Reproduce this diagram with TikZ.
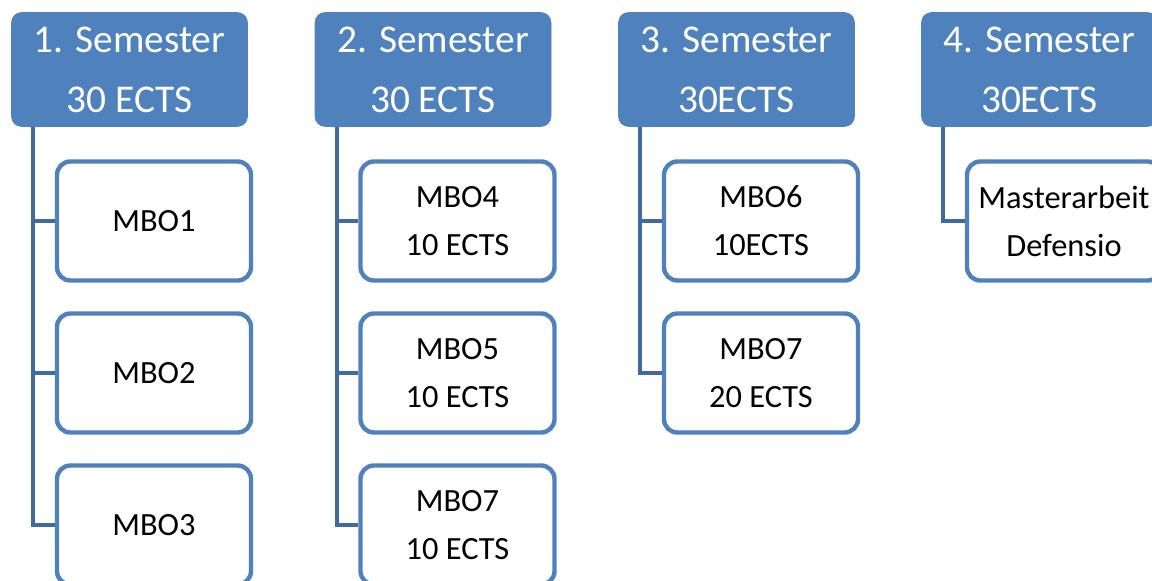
\documentclass[tikz,border=0pt]{standalone}
\usepackage{fontspec}
\setmainfont{Carlito}
\definecolor{accent}{RGB}{79,129,189}
\definecolor{linecol}{RGB}{62,106,156}

\begin{document}
\begin{tikzpicture}[x=0.75pt,y=-0.75pt]
                \tikzstyle{semester}=[rectangle,rounded corners=7.5pt,fill=accent,draw=accent,text=white,minimum width=177pt,minimum height=85.5pt,inner sep=0pt,align=center,font=\fontsize{29.5}{45}\selectfont]
                \tikzstyle{module}=[rectangle,rounded corners=10pt,draw=accent,line width=3.3pt,fill=white,minimum width=145.5pt,minimum height=89.25pt,inner sep=0pt,align=center,font=\fontsize{24.3}{36}\selectfont]
                \tikzstyle{branch}=[draw=linecol,line width=3.2pt]

                \path[use as bounding box,clip] (0,0) rectangle (1152,581);

                \foreach \num/\x/\ects in {1/129.5/30 ECTS, 2/433/30 ECTS, 3/736.5/30ECTS, 4/1039.5/30ECTS}
                        \node[semester] (S-\num) at (\x,69.5) {\num. Semester\\\ects};

                \foreach \col/\row/\txt in {1/1/MBO1, 1/2/MBO2, 1/3/MBO3,
                                            2/1/MBO4\\10 ECTS, 2/2/MBO5\\10 ECTS, 2/3/MBO7\\10 ECTS,
                                            3/1/MBO6\\10ECTS, 3/2/MBO7\\20 ECTS,
                                            4/1/Masterarbeit\\Defensio}
                {
                        \node[module] (M-\col-\row) at ([shift={(24.5,{151.5+152*(\row-1)})}]S-\col.center) {\txt};
                        \draw[branch] ([xshift=16.5pt]S-\col.south west) |- (M-\col-\row.west);
                }
            \end{tikzpicture}
\end{document}
